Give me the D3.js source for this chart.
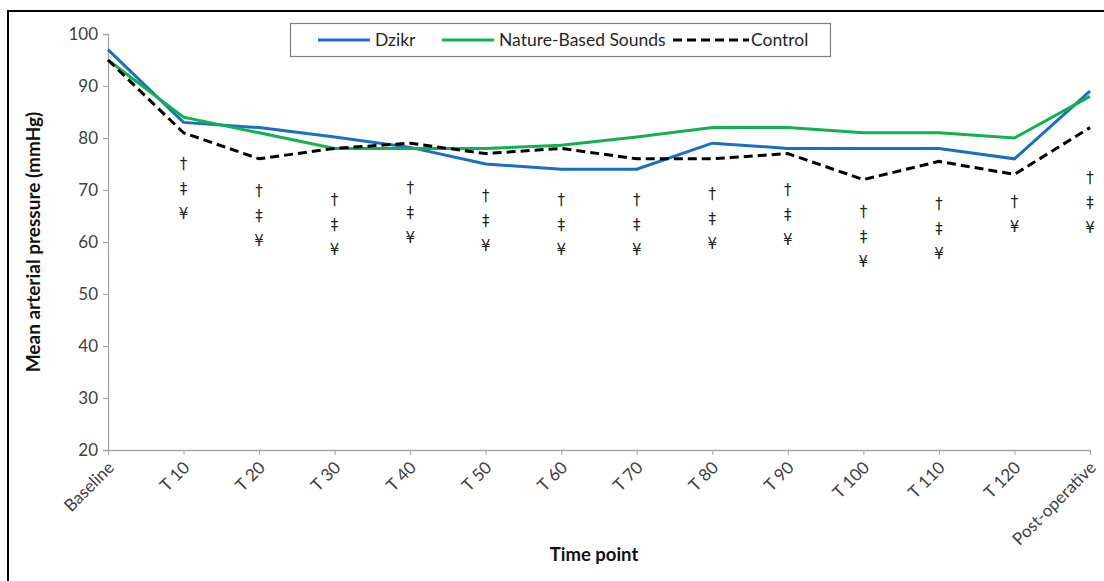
<!DOCTYPE html>
<html>
<head>
<meta charset="utf-8">
<script src="https://cdn.jsdelivr.net/npm/d3@7"></script>
<style>
    body { margin: 0; background: #fff; }
    svg { display: block; font-family: Lato, "Open Sans", sans-serif; }
    .tick text { fill: #404040; font-size: 17px; font-family: Lato, "Open Sans", sans-serif; }
    .axis path, .axis line { stroke: #a6a6a6; }
    .marks text { font-family: "DejaVu Sans", sans-serif; }
</style>
</head>
<body>
<div class="container"></div>
<script>
"use strict";

var width = 1104;
var height = 581;

// Time points along the x axis
var timePoints = ["Baseline", "T 10", "T 20", "T 30", "T 40", "T 50", "T 60",
    "T 70", "T 80", "T 90", "T 100", "T 110", "T 120", "Post-operative"];

// Mean arterial pressure (mmHg)
var dzikr = [97, 83, 82, 80.2, 78.2, 75, 74, 74, 79, 78, 78, 78, 76, 89];
var natureSounds = [95, 84, 81, 78, 78, 78, 78.6, 80.2, 82, 82, 81, 81, 80, 88];
var control = [95, 81, 76, 78, 79, 77, 78, 76, 76, 77, 72, 75.5, 73, 82];

// Significance marks under each time point (top mark position in mmHg)
var markSymbols = [[], ["†", "‡", "¥"], ["†", "‡", "¥"], ["†", "‡", "¥"], ["†", "‡", "¥"],
    ["†", "‡", "¥"], ["†", "‡", "¥"], ["†", "‡", "¥"], ["†", "‡", "¥"], ["†", "‡", "¥"],
    ["†", "‡", "¥"], ["†", "‡", "¥"], ["†", "¥"], ["†", "‡", "¥"]];
var markTop = [null, 75.2, 70, 68.3, 70.6, 69, 68.3, 68.3, 69.4, 70.2, 66, 67.5, 67.9, 72.5];

var yTicks = [20, 30, 40, 50, 60, 70, 80, 90, 100];

var series = [
    {name: "Dzikr", values: dzikr, color: "#1a6fc4", dash: null},
    {name: "Nature-Based Sounds", values: natureSounds, color: "#13b04f", dash: null},
    {name: "Control", values: control, color: "#000", dash: "9,5"}
];

var x = d3.scalePoint()
    .domain(timePoints)
    .range([108, 1090]);

var y = d3.scaleLinear()
    .domain([20, 100])
    .range([450, 34]);

var svg = d3.select(".container").append("svg")
    .attr("width", width)
    .attr("height", height);

// Frame around the whole figure (runs off the right and bottom)
svg.append("rect")
    .attr("x", 8)
    .attr("y", 11)
    .attr("width", width + 20)
    .attr("height", height + 20)
    .attr("fill", "none")
    .attr("stroke", "#000")
    .attr("stroke-width", 2);

// Axes
var yAxis = svg.append("g")
    .attr("class", "axis")
    .attr("transform", "translate(" + x.range()[0] + ",0)")
    .call(d3.axisLeft(y).tickValues(yTicks).tickSize(5).tickPadding(5));

var xAxis = svg.append("g")
    .attr("class", "axis")
    .attr("transform", "translate(0," + y(20) + ")")
    .call(d3.axisBottom(x).tickSize(5).tickSizeOuter(0));

xAxis.selectAll(".tick text")
    .attr("text-anchor", "end")
    .attr("dy", null)
    .attr("transform", "translate(1,13) rotate(-45)");

svg.selectAll(".axis .domain").attr("stroke-width", 1.3);

// Lines
var line = d3.line()
    .x(function(d, i) { return x(timePoints[i]); })
    .y(function(d) { return y(d); });

svg.selectAll(".series")
    .data(series)
    .enter().append("path")
    .attr("class", "series")
    .attr("d", function(d) { return line(d.values); })
    .attr("fill", "none")
    .attr("stroke", function(d) { return d.color; })
    .attr("stroke-width", 3)
    .attr("stroke-dasharray", function(d) { return d.dash; });

// Significance marks
var marks = svg.append("g")
    .attr("class", "marks")
    .attr("font-size", 15)
    .attr("fill", "#222")
    .attr("text-anchor", "middle");

timePoints.forEach(function(t, i) {
    if (markTop[i] == null) return;
    markSymbols[i].forEach(function(s, j) {
        marks.append("text")
            .attr("x", x(t))
            .attr("y", y(markTop[i]) + j * 25 + 6)
            .text(s);
    });
});

// Legend
var legend = svg.append("g");

legend.append("rect")
    .attr("x", 290.5)
    .attr("y", 23.5)
    .attr("width", 540)
    .attr("height", 33)
    .attr("fill", "#fff")
    .attr("stroke", "#7f7f7f")
    .attr("stroke-width", 1.2);

var legendX = [318, 442, 673];

var entry = legend.selectAll(".entry")
    .data(series)
    .enter().append("g")
    .attr("class", "entry")
    .attr("transform", function(d, i) { return "translate(" + legendX[i] + ",40)"; });

entry.append("line")
    .attr("x1", 0)
    .attr("x2", function(d, i) { return i == 2 ? 76 : 52; })
    .attr("stroke", function(d) { return d.color; })
    .attr("stroke-width", 3)
    .attr("stroke-dasharray", function(d) { return d.dash; });

entry.append("text")
    .attr("x", function(d, i) { return i == 2 ? 78 : 57; })
    .attr("dy", "0.35em")
    .attr("font-size", 17.5)
    .attr("fill", "#262626")
    .text(function(d) { return d.name; });

// Axis titles
svg.append("text")
    .attr("transform", "translate(40,242) rotate(-90)")
    .attr("text-anchor", "middle")
    .attr("font-size", 19)
    .attr("font-weight", "bold")
    .attr("fill", "#111")
    .text("Mean arterial pressure (mmHg)");

svg.append("text")
    .attr("x", 594)
    .attr("y", 561)
    .attr("text-anchor", "middle")
    .attr("font-size", 18.5)
    .attr("font-weight", "bold")
    .attr("fill", "#111")
    .text("Time point");
</script>
</body>
</html>
